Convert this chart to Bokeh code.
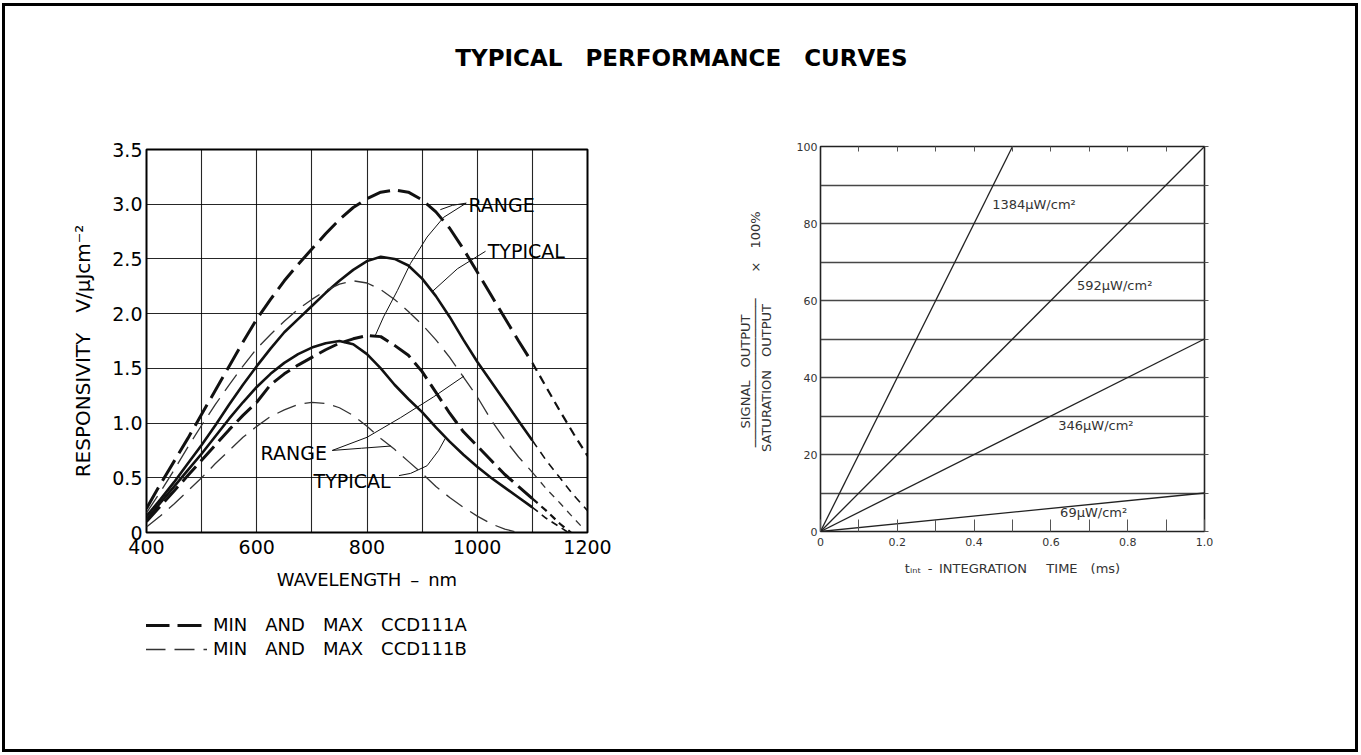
from bokeh.plotting import figure
from bokeh.models import Range1d, Label, FixedTicker, LinearAxis, Legend, LegendItem
from bokeh.layouts import column, row
from bokeh.embed import file_html
from bokeh.resources import INLINE
from bokeh.core.properties import value

EN = "\u2002"
TITLE = "TYPICAL" + EN * 2 + "PERFORMANCE" + EN * 2 + "CURVES"

# ---------------- left chart data (responsivity vs wavelength) ----------------
WAVELENGTH = [400, 425, 450, 475, 500, 525, 550, 575, 600, 625, 650, 675, 700, 725, 750,
              775, 800, 825, 850, 875, 900, 925, 950, 975, 1000, 1025, 1050, 1075, 1100]
MAX_A = [0.22, 0.44, 0.65, 0.86, 1.08, 1.30, 1.52, 1.74, 1.95, 2.13, 2.30, 2.45, 2.59, 2.73, 2.86,
         2.97, 3.05, 3.11, 3.13, 3.11, 3.04, 2.93, 2.78, 2.59, 2.38, 2.17, 1.96, 1.75, 1.55]
TYP_A = [0.15, 0.30, 0.46, 0.63, 0.80, 0.98, 1.17, 1.35, 1.52, 1.68, 1.83, 1.95, 2.07, 2.19, 2.30,
         2.40, 2.48, 2.52, 2.50, 2.44, 2.32, 2.16, 1.97, 1.76, 1.56, 1.38, 1.20, 1.02, 0.84]
MIN_A = [0.10, 0.24, 0.38, 0.52, 0.66, 0.80, 0.94, 1.07, 1.19, 1.35, 1.45, 1.53, 1.60, 1.67, 1.73,
         1.77, 1.80, 1.79, 1.71, 1.62, 1.47, 1.28, 1.09, 0.92, 0.79, 0.66, 0.53, 0.42, 0.31]
MAX_B = [0.18, 0.37, 0.57, 0.78, 0.98, 1.17, 1.35, 1.52, 1.68, 1.81, 1.93, 2.04, 2.13, 2.21, 2.27,
         2.30, 2.28, 2.22, 2.13, 2.02, 1.90, 1.76, 1.60, 1.42, 1.24, 1.03, 0.85, 0.69, 0.55]
TYP_B = [0.12, 0.27, 0.42, 0.57, 0.72, 0.88, 1.04, 1.19, 1.33, 1.45, 1.55, 1.63, 1.69, 1.73, 1.75,
         1.72, 1.63, 1.50, 1.35, 1.22, 1.10, 0.96, 0.83, 0.71, 0.60, 0.50, 0.41, 0.32, 0.23]
MIN_B_WL = [400, 425, 450, 475, 500, 525, 550, 575, 600, 625, 650, 675, 700, 725, 750,
            775, 800, 825, 850, 875, 900, 925, 950, 975, 1000, 1025, 1050, 1075]
MIN_B = [0.05, 0.15, 0.26, 0.38, 0.50, 0.63, 0.75, 0.87, 0.97, 1.06, 1.12, 1.17, 1.19, 1.18, 1.14,
         1.07, 0.97, 0.86, 0.76, 0.65, 0.54, 0.42, 0.32, 0.23, 0.15, 0.08, 0.03, 0.0]

# extrapolated tails beyond 1100 nm
TAIL_MAX_A_WL = [1100, 1125, 1150, 1175, 1200]
TAIL_MAX_A = [1.55, 1.33, 1.11, 0.90, 0.70]
TAIL_TYP_A_WL = [1100, 1125, 1150, 1175, 1200]
TAIL_TYP_A = [0.84, 0.66, 0.50, 0.34, 0.20]
TAIL_MIN_A_WL = [1100, 1125, 1150, 1170]
TAIL_MIN_A = [0.31, 0.20, 0.08, 0.0]
TAIL_MAX_B_WL = [1100, 1125, 1150, 1175, 1190]
TAIL_MAX_B = [0.55, 0.40, 0.27, 0.13, 0.05]
TAIL_TYP_B_WL = [1100, 1125, 1150, 1165]
TAIL_TYP_B = [0.23, 0.13, 0.05, 0.0]

X_TICKS_L = [400, 600, 800, 1000, 1200]
X_GRID_L = [500, 600, 700, 800, 900, 1000, 1100]
Y_TICKS_L = [0, 0.5, 1.0, 1.5, 2.0, 2.5, 3.0, 3.5]
Y_LABELS_L = ["0", "0.5", "1.0", "1.5", "2.0", "2.5", "3.0", "3.5"]
LEGEND_LABELS = [EN.join(["MIN", "", "AND", "", "MAX", "", "CCD111A"]),
                 EN.join(["MIN", "", "AND", "", "MAX", "", "CCD111B"])]

# callout labels and their leader lines (annotation positions, data units)
CALLOUTS = [("RANGE", 984, 2.99), ("TYPICAL", 1019, 2.57), ("RANGE", 607, 0.73), ("TYPICAL", 703, 0.475)]
LEADERS = [
    ([980, 955, 933], [3.01, 2.99, 2.95]),
    ([980, 939, 909, 879, 855, 830, 815], [3.01, 2.88, 2.70, 2.46, 2.21, 1.97, 1.80]),
    ([1015, 964, 918], [2.57, 2.41, 2.20]),
    ([737, 800, 861, 921, 976], [0.75, 0.87, 1.05, 1.24, 1.43]),
    ([737, 790, 843], [0.75, 0.77, 0.79]),
    ([858, 879, 909, 930, 942], [0.52, 0.54, 0.61, 0.75, 0.86]),
]

# ---------------- right chart data (signal vs integration time) ----------------
INTENSITY_LABELS = ["1384µW/cm²", "592µW/cm²", "346µW/cm²", "69µW/cm²"]
T_AT_END = [0.5, 1.0, 1.0, 1.0]
PCT_AT_END = [100, 100, 50, 10]
LABEL_T = [0.447, 0.668, 0.619, 0.624]
LABEL_PCT = [84.9, 63.9, 27.5, 4.9]
X_TICKS_R = [0, 0.2, 0.4, 0.6, 0.8, 1.0]
X_LABELS_R = ["0", "0.2", "0.4", "0.6", "0.8", "1.0"]
X_MINOR_R = [0.1, 0.3, 0.5, 0.7, 0.9]
Y_TICKS_R = [0, 20, 40, 60, 80, 100]
Y_GRID_R = [10, 20, 30, 40, 50, 60, 70, 80, 90]
Y_EDGE_TICKS_R = [0, 10, 20, 30, 40, 50, 60, 70, 80, 90, 100]
X_EDGE_TICKS_R = [0.1, 0.2, 0.3, 0.4, 0.5, 0.6, 0.7, 0.8, 0.9]

Y_CAPTION_R = "\n".join([
    "SIGNAL" + EN * 2 + "OUTPUT" + EN * 10,
    EN * 3 + "\u2500" * 19 + EN * 4 + "×" + EN * 2 + "100%",
    "SATURATION" + EN * 2 + "OUTPUT" + EN * 12,
])
X_CAPTION_R = "t\u1d62\u2099\u209c" + EN + "-" + EN + "INTEGRATION" + EN * 3 + "TIME" + EN * 2 + "(ms)"

LF = "DejaVu Sans"
INK = "#111111"
B_INK = "#333333"

# ---------------- title strip ----------------
top = figure(width=1350, height=100, x_range=Range1d(0, 1), y_range=Range1d(0, 1), min_border=0,
             x_axis_location=None, y_axis_location=None, toolbar_location=None,
             output_backend="svg", outline_line_color=None)
top.grid.visible = False
top.add_layout(Label(x=0.5007, y=0.49, text=TITLE, text_align="center", text_baseline="middle",
                     text_font="DejaVu Sans", text_font_style="bold", text_font_size="23px",
                     text_color="black"))

# ---------------- left chart ----------------
left = figure(frame_width=441, frame_height=383, min_border_left=141, min_border_right=113,
              min_border_top=43, min_border_bottom=70, x_range=Range1d(400, 1200),
              y_range=Range1d(0, 3.5), output_backend="svg", toolbar_location=None)
left.outline_line_color = "black"
left.outline_line_width = 2
for ax in (left.xaxis[0], left.yaxis[0]):
    ax.axis_line_color = None
    ax.major_tick_line_color = None
    ax.minor_tick_line_color = None
    ax.major_tick_out = 0
    ax.major_tick_in = 0
    ax.minor_tick_out = 0
    ax.minor_tick_in = 0
    ax.major_label_text_font = LF
    ax.major_label_text_font_size = "19px"
    ax.major_label_text_color = "black"
    ax.axis_label_text_font = LF
    ax.axis_label_text_font_style = "normal"
    ax.axis_label_text_color = "black"
left.xaxis.ticker = FixedTicker(ticks=X_TICKS_L)
left.xaxis.major_label_standoff = 7
left.xaxis.axis_label = "WAVELENGTH" + EN + "–" + EN + "nm"
left.xaxis.axis_label_text_font_size = "18px"
left.xaxis.axis_label_standoff = 12
left.yaxis.ticker = FixedTicker(ticks=Y_TICKS_L)
left.yaxis.major_label_overrides = dict(zip(Y_TICKS_L, Y_LABELS_L))
left.yaxis.major_label_standoff = 4
left.yaxis.axis_label = "RESPONSIVITY" + EN * 2 + "V/µJcm⁻²" + EN * 2
left.yaxis.axis_label_text_font_size = "20px"
left.yaxis.axis_label_standoff = 14
left.xgrid.ticker = FixedTicker(ticks=X_GRID_L)
left.ygrid.ticker = FixedTicker(ticks=Y_TICKS_L[1:-1])
left.grid.grid_line_color = "black"
left.grid.grid_line_alpha = 0.85
left.grid.grid_line_width = 1.1

STYLE_A = dict(line_color=INK, line_width=3, line_dash="24 8")
STYLE_B = dict(line_color=B_INK, line_width=1.3, line_dash="20 9")
left.line(WAVELENGTH, MAX_A, **STYLE_A)
left.line(TAIL_MAX_A_WL, TAIL_MAX_A, line_color=INK, line_width=2.2, line_dash="9 6")
left.line(WAVELENGTH, TYP_A, line_color=INK, line_width=2.6)
left.line(TAIL_TYP_A_WL, TAIL_TYP_A, line_color=INK, line_width=1.6, line_dash="8 6")
left.line(WAVELENGTH, MIN_A, line_color=INK, line_width=3, line_dash="20 7")
left.line(TAIL_MIN_A_WL, TAIL_MIN_A, line_color=INK, line_width=2.2, line_dash="7 5")
left.line(WAVELENGTH, MAX_B, **STYLE_B)
left.line(TAIL_MAX_B_WL, TAIL_MAX_B, line_color=B_INK, line_width=1.3, line_dash="7 6")
left.line(WAVELENGTH, TYP_B, line_color=INK, line_width=2.6)
left.line(TAIL_TYP_B_WL, TAIL_TYP_B, line_color=INK, line_width=1.6, line_dash="7 5")
left.line(MIN_B_WL, MIN_B, **STYLE_B)

for xs, ys in LEADERS:
    left.line(xs, ys, line_color=INK, line_width=1)
for txt, x, y in CALLOUTS:
    left.add_layout(Label(x=x, y=y, text=txt, text_font=LF, text_font_size="19px",
                          text_baseline="middle", text_align="left", text_color="black"))

# ---------------- legend strip under the left chart ----------------
# (the renderers carry the real series but lie outside this strip's view; only their legend glyphs show)
leg = figure(width=695, height=147, x_range=Range1d(0, 1), y_range=Range1d(0, 1), min_border=0,
             x_axis_location=None, y_axis_location=None, toolbar_location=None,
             output_backend="svg", outline_line_color=None)
leg.grid.visible = False
leg_a = leg.line(WAVELENGTH, MAX_A, **STYLE_A)
leg_b = leg.line(WAVELENGTH, MAX_B, **STYLE_B)
legend = Legend(items=[LegendItem(label=value(LEGEND_LABELS[0]), renderers=[leg_a]),
                       LegendItem(label=value(LEGEND_LABELS[1]), renderers=[leg_b])],
                location=(-1, 90), orientation="vertical", glyph_width=62, glyph_height=20,
                label_height=20, spacing=3, padding=0, margin=0, label_standoff=6,
                border_line_color=None, background_fill_alpha=0,
                label_text_font=LF, label_text_font_size="18px", label_text_color="black")
leg.add_layout(legend)

# ---------------- right chart ----------------
RF = "DejaVu Sans"
RC = "#333333"
right = figure(frame_width=384, frame_height=385, min_border_left=120, min_border_right=151,
               min_border_top=40, min_border_bottom=218, x_range=Range1d(0, 1),
               y_range=Range1d(0, 100), output_backend="svg", toolbar_location=None)
right.outline_line_color = "#222222"
right.outline_line_width = 1.6
xa = right.xaxis[0]
xa.ticker = FixedTicker(ticks=X_TICKS_R, minor_ticks=X_MINOR_R)
xa.major_label_overrides = dict(zip(X_TICKS_R, X_LABELS_R))
xa.axis_line_color = None
xa.major_tick_in = 12
xa.major_tick_out = 0
xa.minor_tick_in = 12
xa.minor_tick_out = 0
xa.major_tick_line_color = "#555555"
xa.minor_tick_line_color = "#555555"
xa.major_label_standoff = 6
xa.axis_label = X_CAPTION_R
xa.axis_label_standoff = 12
ya = right.yaxis[0]
ya.ticker = FixedTicker(ticks=Y_TICKS_R)
ya.axis_line_color = None
ya.major_tick_line_color = None
ya.minor_tick_line_color = None
ya.major_tick_out = 0
ya.major_tick_in = 0
ya.minor_tick_out = 0
ya.minor_tick_in = 0
ya.major_label_standoff = 3
ya.axis_label = Y_CAPTION_R
ya.axis_label_standoff = 20
ya.axis_label_text_line_height = 0.69
for ax in (xa, ya):
    ax.major_label_text_font = RF
    ax.major_label_text_font_size = "11px"
    ax.major_label_text_color = RC
    ax.axis_label_text_font = RF
    ax.axis_label_text_font_size = "13px"
    ax.axis_label_text_font_style = "normal"
    ax.axis_label_text_color = RC

top_ax = LinearAxis(ticker=FixedTicker(ticks=[], minor_ticks=X_EDGE_TICKS_R),
                    minor_tick_in=5, minor_tick_out=0, minor_tick_line_color="#555555",
                    major_tick_in=0, major_tick_out=0, axis_line_color=None)
right.add_layout(top_ax, "above")
right_ax = LinearAxis(ticker=FixedTicker(ticks=[], minor_ticks=Y_EDGE_TICKS_R),
                      minor_tick_in=0, minor_tick_out=4, minor_tick_line_color="#555555",
                      major_tick_in=0, major_tick_out=0, axis_line_color=None)
right.add_layout(right_ax, "right")

right.xgrid.visible = False
right.ygrid.ticker = FixedTicker(ticks=Y_GRID_R)
right.ygrid.grid_line_color = "#333333"
right.ygrid.grid_line_width = 1.6
right.ygrid.grid_line_alpha = 0.9

right.segment(x0=[0] * len(T_AT_END), y0=[0] * len(T_AT_END), x1=T_AT_END, y1=PCT_AT_END,
              line_color="#222222", line_width=1.3)
for txt, tx, ty in zip(INTENSITY_LABELS, LABEL_T, LABEL_PCT):
    right.add_layout(Label(x=tx, y=ty, text=txt, text_font=RF, text_font_size="13px",
                           text_baseline="middle", text_align="left", text_color=RC))

layout = column(top, row(column(left, leg), right),
                styles={"border": "3px solid black", "margin-left": "2px", "margin-top": "3px"})
open("out.html", "w").write(file_html(layout, INLINE))
